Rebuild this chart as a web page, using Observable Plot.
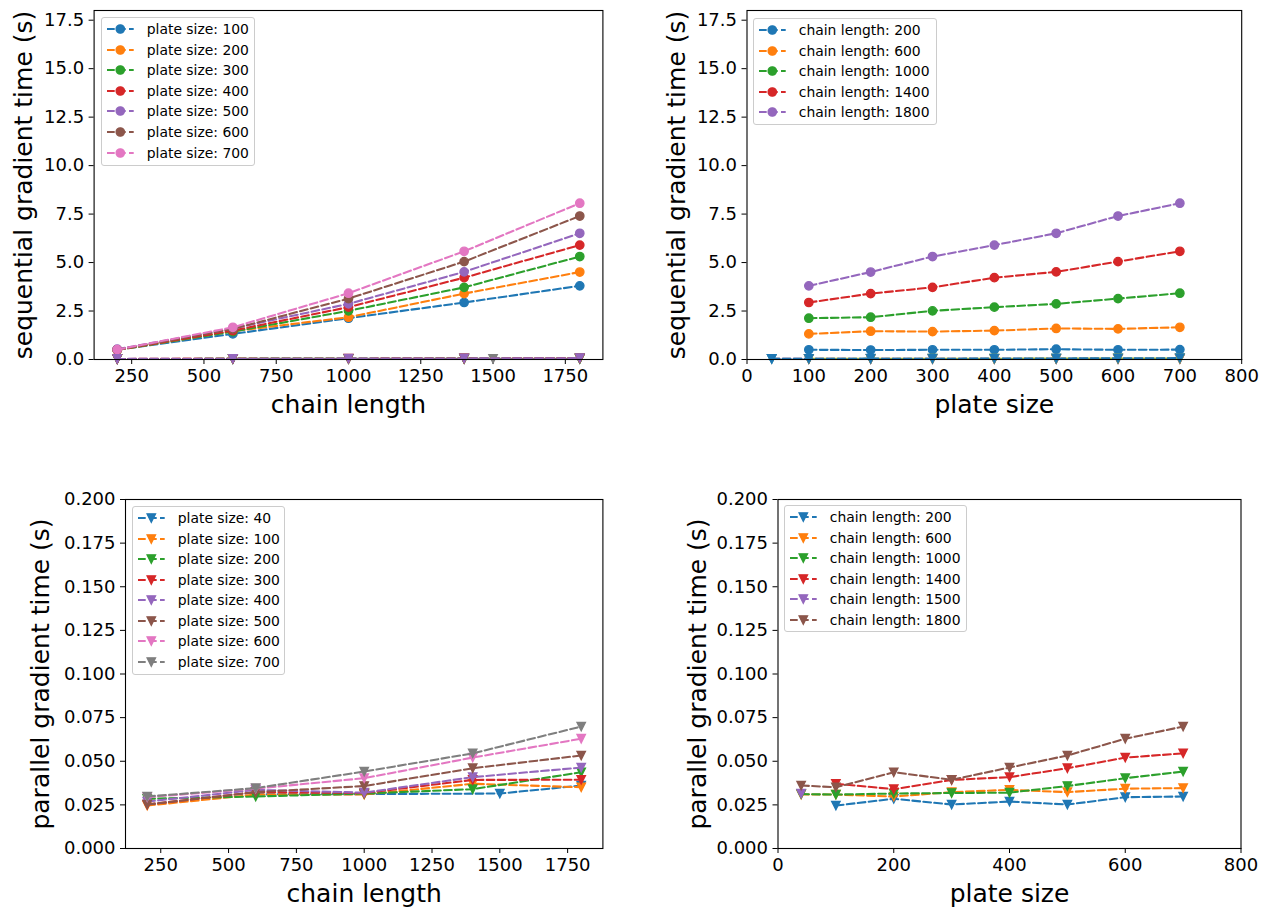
<!DOCTYPE html>
<html><head><meta charset="utf-8">
<script src="https://cdn.jsdelivr.net/npm/d3@7"></script>
<script src="https://cdn.jsdelivr.net/npm/@observablehq/plot@0.6"></script>
<style>
body{margin:0;background:#fff;font-family:"DejaVu Sans",sans-serif;}
#fig{position:relative;width:1261px;height:907px;overflow:hidden;background:#fff;}
.panel{position:absolute;}
.legend{position:absolute;background:rgba(255,255,255,0.8);border:1px solid #cccccc;border-radius:3px;box-sizing:border-box;font-size:13.9px;color:#000;padding:1px 0 0 4.7px;font-family:"DejaVu Sans",sans-serif;}
.row{display:flex;align-items:center;height:20.55px;white-space:nowrap;}
.row svg{flex:none;margin-right:13.4px;}
</style></head><body><div id="fig"></div>
<script>
const tab10 = ["#1f77b4","#ff7f0e","#2ca02c","#d62728","#9467bd","#8c564b","#e377c2","#7f7f7f","#bcbd22","#17becf"];

// Sequential gradient time (s): one array per chain length, values per plate size
const plateSizes = [100, 200, 300, 400, 500, 600, 700];
const chainLengths = [200, 600, 1000, 1400, 1800];
const seqChain200  = [0.50, 0.49, 0.50, 0.50, 0.53, 0.50, 0.51];
const seqChain600  = [1.32, 1.46, 1.44, 1.49, 1.60, 1.58, 1.66];
const seqChain1000 = [2.13, 2.18, 2.51, 2.70, 2.87, 3.14, 3.42];
const seqChain1400 = [2.94, 3.40, 3.72, 4.22, 4.52, 5.05, 5.58];
const seqChain1800 = [3.80, 4.51, 5.31, 5.90, 6.51, 7.40, 8.06];
const seqByChain = [seqChain200, seqChain600, seqChain1000, seqChain1400, seqChain1800];

// Parallel gradient time (s): one array per chain length, values per plate size
const parPlateSizes = [40, 100, 200, 300, 400, 500, 600, 700];
const parChainLengths = [200, 600, 1000, 1400, 1500, 1800];
const parChain200  = [null,   0.0246, 0.0285, 0.0252, 0.0269, 0.0252, 0.0294, 0.0298];
const parChain600  = [0.0310, 0.0309, 0.0298, 0.0323, 0.0336, 0.0323, 0.0343, 0.0346];
const parChain1000 = [0.0312, 0.0309, 0.0315, 0.0318, 0.0320, 0.0358, 0.0403, 0.0441];
const parChain1400 = [null,   0.0371, 0.0340, 0.0393, 0.0409, 0.0460, 0.0521, 0.0545];
const parChain1500 = [0.0315, null,   null,   null,   null,   null,   null,   null];
const parChain1800 = [0.0361, 0.0351, 0.0437, 0.0394, 0.0464, 0.0533, 0.0629, 0.0699];
const parByChain = [parChain200, parChain600, parChain1000, parChain1400, parChain1500, parChain1800];

// Tick values
const chainTicks = [250, 500, 750, 1000, 1250, 1500, 1750];
const plateTicksTop = [0, 100, 200, 300, 400, 500, 600, 700, 800];
const plateTicksBottom = [0, 200, 400, 600, 800];
const seqTicks = [0, 2.5, 5, 7.5, 10, 12.5, 15, 17.5];
const parTicks = [0, 0.025, 0.05, 0.075, 0.1, 0.125, 0.15, 0.175, 0.2];

// Series construction
const seqPlateSeries = plateSizes.map((p, j) => chainLengths.map((c, i) => ({x: c, y: seqByChain[i][j]})));
const seqChainSeries = chainLengths.map((c, i) => plateSizes.map((p, j) => ({x: p, y: seqByChain[i][j]})));
const parPlateSeries = parPlateSizes.map((p, j) => parChainLengths.map((c, i) => ({x: c, y: parByChain[i][j]})).filter(d => d.y != null));
const parChainSeries = parChainLengths.map((c, i) => parPlateSizes.map((p, j) => ({x: p, y: parByChain[i][j]})).filter(d => d.y != null));

const triDown = {draw(ctx, size){ const r = Math.sqrt(size / Math.PI); ctx.moveTo(-r, -r); ctx.lineTo(r, -r); ctx.lineTo(0, r); ctx.closePath(); }};
const MR = 4.17, LW = 2.08, DASH = "7.7,3.3";

function seriesMarks(points, color, symbol) {
  return [
    Plot.line(points, {x: "x", y: "y", stroke: color, strokeWidth: LW, strokeDasharray: DASH}),
    Plot.dot(points, {x: "x", y: "y", fill: color, stroke: color, strokeWidth: 1.39, r: MR, symbol})
  ];
}

function panel(o) {
  const svg = Plot.plot({
    width: o.width, height: o.height,
    marginLeft: o.ml, marginRight: o.mr, marginTop: o.mt, marginBottom: o.mb,
    style: {fontSize: "18px", fontFamily: "DejaVu Sans", color: "black", background: "transparent", overflow: "visible"},
    x: {domain: o.xDomain, ticks: o.xTicks, tickSize: 5, tickPadding: 5, tickFormat: d => String(d), label: null},
    y: {domain: o.yDomain, ticks: o.yTicks, tickSize: 5, tickPadding: 5, tickFormat: o.yFmt, label: null},
    marks: [
      ...o.marks,
      Plot.frame({stroke: "black", strokeWidth: 1.1}),
      Plot.text([o.xLabel], {text: d => d, frameAnchor: "bottom", textAnchor: "middle", lineAnchor: "middle", dy: 45, fontSize: 25, fill: "black"}),
      Plot.text([o.yLabel], {text: d => d, frameAnchor: "left", textAnchor: "middle", lineAnchor: "middle", rotate: -90, dx: o.ydx, fontSize: 25, fill: "black"})
    ]
  });
  const div = document.createElement("div");
  div.className = "panel";
  div.style.left = o.left + "px"; div.style.top = o.top + "px";
  div.appendChild(svg);
  document.getElementById("fig").appendChild(div);
}

function legend(o) {
  const box = document.createElement("div");
  box.className = "legend";
  Object.assign(box.style, {left: o.left + "px", top: o.top + "px", width: o.width + "px", height: o.height + "px"});
  o.items.forEach((label, i) => {
    const color = tab10[i];
    const row = document.createElement("div");
    row.className = "row";
    const mk = o.tri
      ? `<path d="M${13.3 - MR},${6 - MR}L${13.3 + MR},${6 - MR}L13.3,${6 + MR}Z" fill="${color}" stroke="${color}" stroke-width="1.39"/>`
      : `<circle cx="13.3" cy="6" r="${MR}" fill="${color}" stroke="${color}" stroke-width="1.39"/>`;
    row.innerHTML = `<svg width="26.7" height="12" style="overflow:visible"><line x1="0" x2="26.7" y1="6" y2="6" stroke="${color}" stroke-width="${LW}" stroke-dasharray="${DASH}"/>${mk}</svg><span>${label}</span>`;
    box.appendChild(row);
  });
  document.getElementById("fig").appendChild(box);
}

// Top-left: sequential vs chain length
panel({
  left: 0, top: 0, width: 630, height: 430, ml: 93.6, mr: 27.6, mt: 10, mb: 71,
  xDomain: [120, 1880], xTicks: chainTicks, yDomain: [0, 18], yTicks: seqTicks, yFmt: d3.format(".1f"),
  xLabel: "chain length", yLabel: "sequential gradient time (s)", ydx: -70.6,
  marks: [
    ...seqPlateSeries.flatMap((s, k) => seriesMarks(s, tab10[k % 10], "circle")),
    ...parPlateSeries.flatMap((s, k) => seriesMarks(s, tab10[(k + 7) % 10], triDown))
  ]
});
// Top-right: sequential vs plate size
panel({
  left: 630, top: 0, width: 631, height: 430, ml: 116.5, mr: 19.8, mt: 10, mb: 71,
  xDomain: [0, 800], xTicks: plateTicksTop, yDomain: [0, 18], yTicks: seqTicks, yFmt: d3.format(".1f"),
  xLabel: "plate size", yLabel: "sequential gradient time (s)", ydx: -70.5,
  marks: [
    ...seqChainSeries.flatMap((s, k) => seriesMarks(s, tab10[k % 10], "circle")),
    ...parChainSeries.flatMap((s, k) => seriesMarks(s, tab10[(k + 5) % 10], triDown))
  ]
});
// Bottom-left: parallel vs chain length
panel({
  left: 0, top: 430, width: 630, height: 477, ml: 125, mr: 27.6, mt: 69, mb: 59,
  xDomain: [120, 1880], xTicks: chainTicks, yDomain: [0, 0.2], yTicks: parTicks, yFmt: d3.format(".3f"),
  xLabel: "chain length", yLabel: "parallel gradient time (s)", ydx: -85,
  marks: parPlateSeries.flatMap((s, k) => seriesMarks(s, tab10[k % 10], triDown))
});
// Bottom-right: parallel vs plate size
panel({
  left: 630, top: 430, width: 631, height: 477, ml: 147.5, mr: 20.5, mt: 69, mb: 59,
  xDomain: [0, 800], xTicks: plateTicksBottom, yDomain: [0, 0.2], yTicks: parTicks, yFmt: d3.format(".3f"),
  xLabel: "plate size", yLabel: "parallel gradient time (s)", ydx: -80.5,
  marks: parChainSeries.flatMap((s, k) => seriesMarks(s, tab10[k % 10], triDown))
});

legend({left: 101, top: 17, width: 154, height: 149, tri: false, items: plateSizes.map(p => "plate size: " + p)});
legend({left: 753, top: 17.7, width: 184, height: 107.5, tri: false, items: chainLengths.map(c => "chain length: " + c)});
legend({left: 132, top: 505.7, width: 153, height: 169, tri: true, items: parPlateSizes.map(p => "plate size: " + p)});
legend({left: 784, top: 505, width: 183, height: 127, tri: true, items: parChainLengths.map(c => "chain length: " + c)});
</script></body></html>
